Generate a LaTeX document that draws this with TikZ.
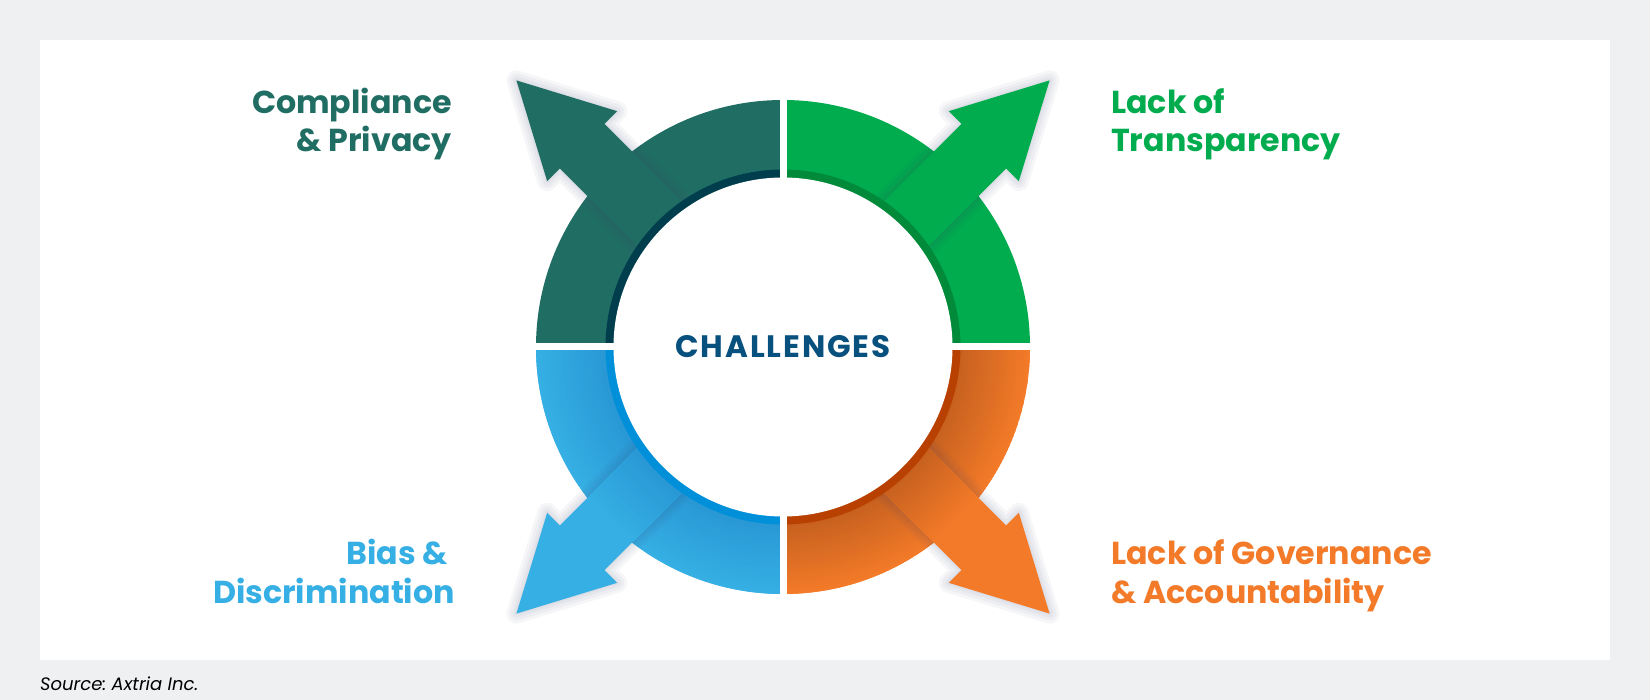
\documentclass[tikz,border=0pt]{standalone}
\usepackage{fontspec}
\setmainfont{Poppins}
\usetikzlibrary{calc}
\definecolor{bgG}{HTML}{EFF0F2}
\definecolor{teal1}{HTML}{206E63}
\definecolor{teal2}{HTML}{003E4E}
\definecolor{grn1}{HTML}{00AC4E}
\definecolor{grn2}{HTML}{008A3A}
\definecolor{blu1}{HTML}{35AFE4}
\definecolor{blu0}{HTML}{2795D3}
\definecolor{blu2}{HTML}{0090DA}
\definecolor{orn1}{HTML}{F27A28}
\definecolor{orn0}{HTML}{C25E1F}
\definecolor{orn2}{HTML}{B84000}
\definecolor{chl}{HTML}{08507E}
\definecolor{shd}{HTML}{3A3F70}
% arrow along image angle #1, path options #2
\newcommand\arrowdraw[2]{\path[#2] ($(c)+(#1:150)+(#1+90:31.6)$) -- ($(c)+(#1:284)+(#1+90:31.6)$) -- ($(c)+(#1:284)+(#1+90:49.5)$) -- ($(c)+(#1:377)$) -- ($(c)+(#1:284)+(#1-90:49.5)$) -- ($(c)+(#1:284)+(#1-90:31.6)$) -- ($(c)+(#1:150)+(#1-90:31.6)$) -- cycle;}
% ring sector from angle #1 to #2, radii #3..#4, options #5
\newcommand\ringpath[5]{\path[#5] ($(c)+(#1:#4)$) arc[start angle=#1, end angle=#2, radius=#4] -- ($(c)+(#2:#3)$) arc[start angle=#2, end angle=#1, radius=#3] -- cycle;}
\newcommand\arrowshadow[1]{%
  \foreach \w in {20,14,8,3}{\arrowdraw{#1}{draw=shd, line width=\w pt, line join=round, opacity=0.045, shift={(#1+180:6)}}}}
% concentric gradient: #1 outer colour, #2 inner colour
\newcommand\gradfill[2]{%
  \fill[#1] (c) circle[radius=377];
  \foreach \i in {0,...,24}{%
    \pgfmathsetmacro\rr{247-\i*77/24}%
    \pgfmathsetmacro\pp{\i*100/24}%
    \fill[#2!\pp!#1] (c) circle[radius=\rr];}}
\tikzset{
  lab/.style={inner sep=0pt, font=\bfseries\fontsize{31.7}{38}\selectfont},
  gapline/.style={white, line width=7pt}
}
\begin{document}
\begin{tikzpicture}[x=1pt, y=-1pt]
\useasboundingbox (0,0) rectangle (1650,700);
\fill[bgG] (0,0) rectangle (1650,700);
\fill[white] (40,40) rectangle (1610,660);
\coordinate (c) at (783,347);
% ring sectors
\ringpath{180}{270}{150}{247}{fill=teal1}
\ringpath{270}{360}{150}{247}{fill=grn1}
\begin{scope}
  \ringpath{0}{90}{150}{247}{clip}
  \gradfill{orn1}{orn0}
\end{scope}
\begin{scope}
  \ringpath{90}{180}{150}{247}{clip}
  \gradfill{blu1}{blu0}
\end{scope}
% arrows
\arrowshadow{225}
\arrowdraw{225}{fill=teal1}
\arrowshadow{315}
\arrowdraw{315}{fill=grn1}
\arrowshadow{45}
\begin{scope}
  \arrowdraw{45}{clip}
  \gradfill{orn1}{orn0}
\end{scope}
\arrowshadow{135}
\begin{scope}
  \arrowdraw{135}{clip}
  \gradfill{blu1}{blu0}
\end{scope}
% inner dark band
\ringpath{180}{270}{160}{177.5}{fill=teal2}
\ringpath{270}{360}{160}{177.5}{fill=grn2}
\ringpath{0}{90}{160}{177.5}{fill=orn2}
\ringpath{90}{180}{160}{177.5}{fill=blu2}
% gaps
\draw[gapline] ($(c)+(-260,0)$) -- ($(c)+(260,0)$);
\draw[gapline] ($(c)+(0,-260)$) -- ($(c)+(0,260)$);
% centre
\fill[white] (c) circle[radius=169.5];
\node[inner sep=0pt, text=chl, font=\bfseries\fontsize{31}{36}\selectfont\addfontfeatures{LetterSpace=6}] (ch) at (c) {CHALLENGES};
% labels
\node[lab, text=teal1, anchor=base east] (cp1) at (452,114) {Compliance};
\node[lab, text=teal1, anchor=base east] (cp2) at (452,152) {\& Privacy};
\node[lab, text=grn1, anchor=base west] (tr1) at (1111,114) {Lack of};
\node[lab, text=grn1, anchor=base west] (tr2) at (1111,152) {Transparency};
\node[lab, text=blu1, anchor=base east] (bd1) at (448,564) {Bias \&};
\node[lab, text=blu1, anchor=base east] (bd2) at (455,603) {Discrimination};
\node[lab, text=orn1, anchor=base west] (ga1) at (1111,564) {Lack of Governance};
\node[lab, text=orn1, anchor=base west] (ga2) at (1111,603) {\& Accountability};
\node[inner sep=0pt, anchor=base west, font=\itshape\fontsize{18}{22}\selectfont] (src) at (40,690) {Source:~Axtria Inc.};
\end{tikzpicture}
\end{document}
